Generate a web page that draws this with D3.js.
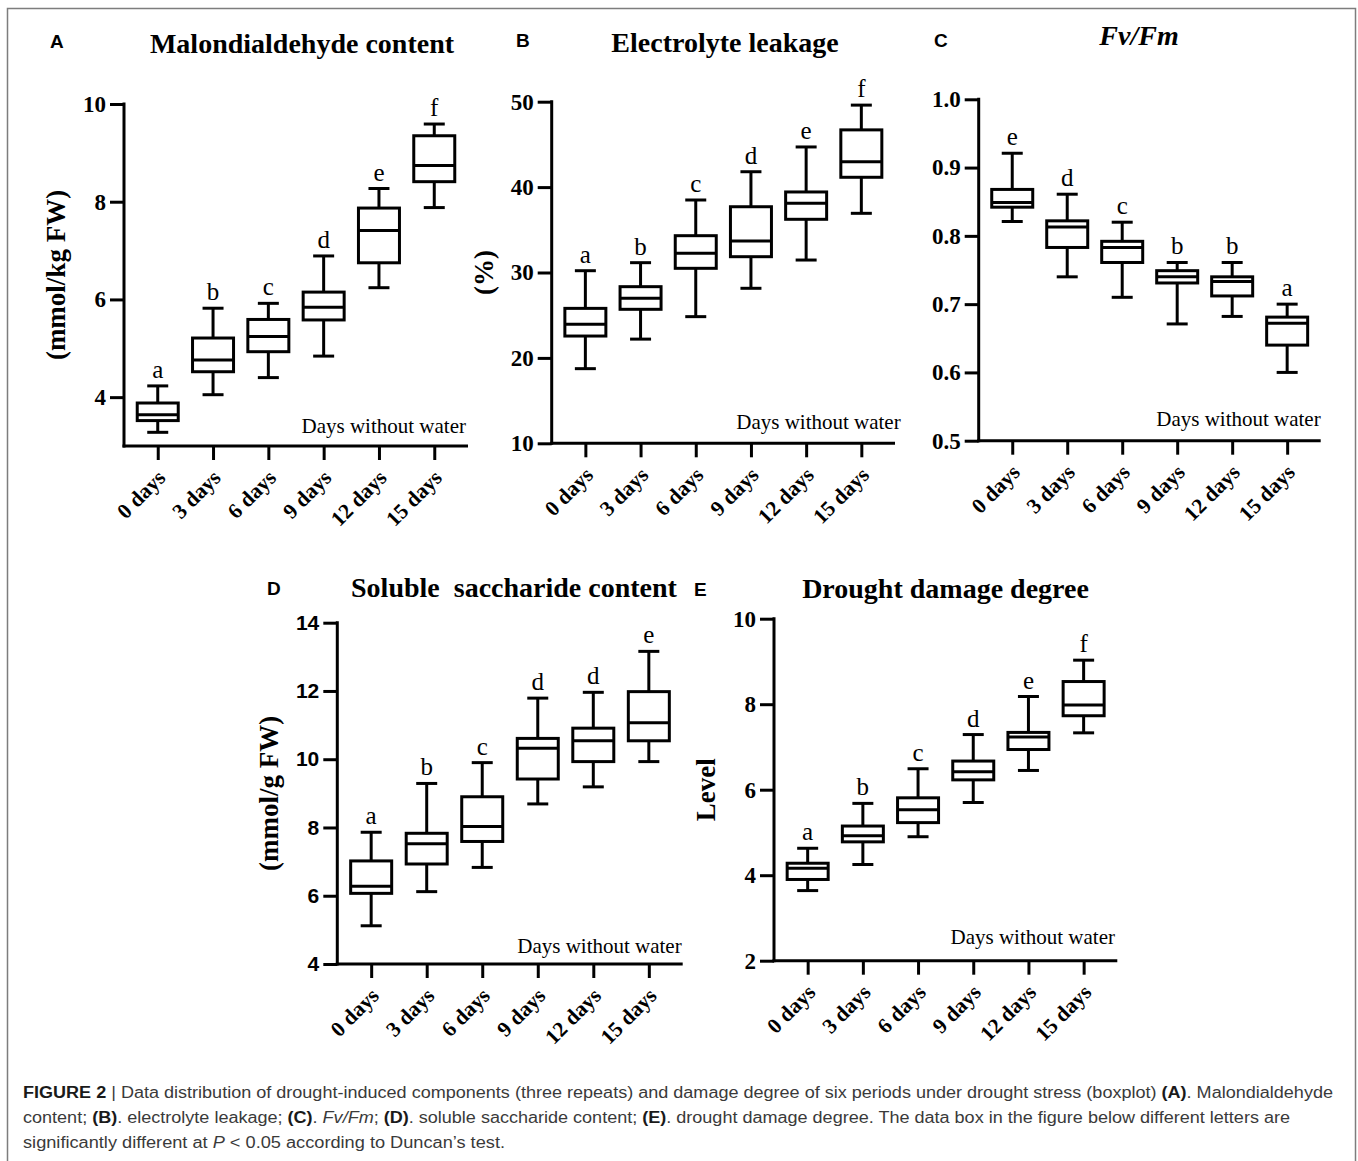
<!DOCTYPE html>
<html>
<head>
<meta charset="utf-8">
<script src="https://cdn.jsdelivr.net/npm/d3@7"></script>
<style>
  html, body { margin: 0; padding: 0; background: #fff; }
  svg { display: block; }
</style>
</head>
<body>
<svg id="fig" width="1358" height="1161"></svg>
<script>
// ---------------- DATA ----------------
const categories = ["0 days", "3 days", "6 days", "9 days", "12 days", "15 days"];

// five-number summaries: [min, Q1, median, Q3, max]
const mdaStats = [
  [3.28, 3.52, 3.64, 3.88, 4.23],
  [4.05, 4.52, 4.76, 5.21, 5.82],
  [4.40, 4.93, 5.24, 5.59, 5.92],
  [4.84, 5.58, 5.84, 6.15, 6.89],
  [6.24, 6.75, 7.41, 7.87, 8.27],
  [7.88, 8.41, 8.74, 9.35, 9.59]
];
const mdaLetters = ["a", "b", "c", "d", "e", "f"];
const mdaTicks = [4, 6, 8, 10];
const mdaDomain = [3, 10];

const elStats = [
  [18.74, 22.56, 23.93, 25.80, 30.21],
  [22.20, 25.69, 26.98, 28.34, 31.15],
  [24.83, 30.49, 32.25, 34.31, 38.49],
  [28.15, 31.85, 33.69, 37.70, 41.80],
  [31.46, 36.23, 38.10, 39.43, 44.70],
  [36.93, 41.15, 42.97, 46.70, 49.60]
];
const elLetters = ["a", "b", "c", "d", "e", "f"];
const elTicks = [10, 20, 30, 40, 50];
const elDomain = [10, 50];

const fvfmStats = [
  [0.821, 0.842, 0.849, 0.868, 0.921],
  [0.740, 0.783, 0.813, 0.822, 0.861],
  [0.710, 0.761, 0.783, 0.792, 0.820],
  [0.671, 0.731, 0.740, 0.749, 0.761],
  [0.682, 0.712, 0.733, 0.740, 0.761],
  [0.600, 0.640, 0.672, 0.681, 0.700]
];
const fvfmLetters = ["e", "d", "c", "b", "b", "a"];
const fvfmTicks = [0.5, 0.6, 0.7, 0.8, 0.9, 1.0];
const fvfmDomain = [0.5, 1.0];

const sscStats = [
  [5.12, 6.07, 6.28, 7.02, 7.86],
  [6.12, 6.93, 7.52, 7.83, 9.29],
  [6.83, 7.59, 8.03, 8.90, 9.90],
  [8.69, 9.42, 10.32, 10.61, 11.79],
  [9.19, 9.93, 10.54, 10.91, 11.96],
  [9.93, 10.54, 11.07, 11.98, 13.16]
];
const sscLetters = ["a", "b", "c", "d", "d", "e"];
const sscTicks = [4, 6, 8, 10, 12, 14];
const sscDomain = [4, 14];

const ddStats = [
  [3.64, 3.90, 4.16, 4.28, 4.63],
  [4.25, 4.78, 4.92, 5.15, 5.68],
  [4.90, 5.23, 5.53, 5.81, 6.49],
  [5.70, 6.23, 6.42, 6.67, 7.29],
  [6.45, 6.94, 7.23, 7.34, 8.18],
  [7.33, 7.73, 7.98, 8.53, 9.03]
];
const ddLetters = ["a", "b", "c", "d", "e", "f"];
const ddTicks = [2, 4, 6, 8, 10];
const ddDomain = [2, 10];

const xAxisNote = "Days without water";

// ---------------- LAYOUT ----------------
const SERIF = "'Liberation Serif', 'Times New Roman', serif";
const SANS = "'Liberation Sans', Arial, Helvetica, sans-serif";

const panels = [
  { tag: "A", title: "Malondialdehyde content", italic: false, ylabel: "(mmol/kg FW)",
    stats: mdaStats, letters: mdaLetters, ticks: mdaTicks, domain: mdaDomain, fmt: d3.format("d"),
    x0: 124, x1: 468, yTop: 104, yBot: 446, titleX: 302, titleY: 53, tagX: 50, tagY: 48,
    noteX: 466, noteY: 433, tickFont: SERIF, tickSize: 23 },
  { tag: "B", title: "Electrolyte leakage", italic: false, ylabel: "(%)",
    stats: elStats, letters: elLetters, ticks: elTicks, domain: elDomain, fmt: d3.format("d"),
    x0: 551.7, x1: 895, yTop: 101.7, yBot: 443.3, titleX: 725, titleY: 52, tagX: 516, tagY: 47,
    noteX: 900.7, noteY: 429, tickFont: SERIF, tickSize: 23 },
  { tag: "C", title: "Fv/Fm", italic: true, ylabel: null,
    stats: fvfmStats, letters: fvfmLetters, ticks: fvfmTicks, domain: fvfmDomain, fmt: d3.format(".1f"),
    x0: 978.7, x1: 1320.7, yTop: 99.3, yBot: 440.7, titleX: 1139, titleY: 45, tagX: 934, tagY: 47,
    noteX: 1320.7, noteY: 426, tickFont: SERIF, tickSize: 23 },
  { tag: "D", title: "Soluble\u00A0 saccharide content", italic: false, ylabel: "(mmol/g FW)",
    stats: sscStats, letters: sscLetters, ticks: sscTicks, domain: sscDomain, fmt: d3.format("d"),
    x0: 337.3, x1: 682.7, yTop: 622.7, yBot: 964, titleX: 514, titleY: 597, tagX: 267, tagY: 595,
    noteX: 681.7, noteY: 953, tickFont: SANS, tickSize: 21 },
  { tag: "E", title: "Drought damage degree", italic: false, ylabel: "Level",
    stats: ddStats, letters: ddLetters, ticks: ddTicks, domain: ddDomain, fmt: d3.format("d"),
    x0: 774, x1: 1117.3, yTop: 618.7, yBot: 960.7, titleX: 945.5, titleY: 598, tagX: 694, tagY: 596,
    noteX: 1115, noteY: 944, tickFont: SERIF, tickSize: 23 }
];

const svg = d3.select("#fig");
svg.append("rect").attr("width", 1358).attr("height", 1161).attr("fill", "#fff");

// outer frame
svg.append("rect")
  .attr("x", 7.5).attr("y", 8.5).attr("width", 1348).attr("height", 1160)
  .attr("fill", "none").attr("stroke", "#7d7d7d").attr("stroke-width", 1.5);

const SW = 3;
const boxW = 41;
const capW = 21;

panels.forEach(p => {
  const g = svg.append("g");
  const x = d3.scalePoint().domain(categories).range([p.x0, p.x1]).padding(0.61);
  const y = d3.scaleLinear().domain(p.domain).range([p.yBot, p.yTop]);

  // panel tag
  g.append("text").attr("x", p.tagX).attr("y", p.tagY)
    .attr("font-family", SANS).attr("font-weight", "bold").attr("font-size", 19)
    .attr("fill", "#000").text(p.tag);

  // title
  g.append("text").attr("x", p.titleX).attr("y", p.titleY)
    .attr("text-anchor", "middle")
    .attr("font-family", SERIF).attr("font-weight", "bold")
    .attr("font-style", p.italic ? "italic" : "normal")
    .attr("font-size", 28).attr("fill", "#000")
    .text(p.title);

  // y axis
  const yAxis = d3.axisLeft(y).tickValues(p.ticks).tickFormat(p.fmt).tickSize(14).tickPadding(4);
  const ya = g.append("g").attr("transform", `translate(${p.x0},0)`).call(yAxis);
  ya.select(".domain").remove();
  ya.selectAll(".tick line").attr("stroke", "#000").attr("stroke-width", SW);
  ya.selectAll(".tick text")
    .attr("font-family", p.tickFont).attr("font-weight", "bold")
    .attr("font-size", p.tickSize).attr("fill", "#000");
  g.append("line")
    .attr("x1", p.x0).attr("x2", p.x0)
    .attr("y1", p.yTop - SW / 2).attr("y2", p.yBot + SW / 2)
    .attr("stroke", "#000").attr("stroke-width", SW);

  // x axis
  const xAxis = d3.axisBottom(x).tickSize(14).tickFormat(() => "");
  const xa = g.append("g").attr("transform", `translate(0,${p.yBot})`).call(xAxis);
  xa.select(".domain").remove();
  xa.selectAll(".tick line").attr("stroke", "#000").attr("stroke-width", SW);
  g.append("line")
    .attr("x1", p.x0 - SW / 2).attr("x2", p.x1)
    .attr("y1", p.yBot).attr("y2", p.yBot)
    .attr("stroke", "#000").attr("stroke-width", SW);

  // rotated category labels
  g.selectAll(".xlab").data(categories).enter().append("text")
    .attr("class", "xlab")
    .attr("transform", d => `translate(${x(d) + 9},${p.yBot + 33}) rotate(-45)`)
    .attr("text-anchor", "end")
    .attr("font-family", SERIF).attr("font-weight", "bold").attr("font-size", 21.5)
    .attr("fill", "#000")
    .text(d => d);

  // note
  g.append("text").attr("x", p.noteX).attr("y", p.noteY)
    .attr("text-anchor", "end")
    .attr("font-family", SERIF).attr("font-size", 21).attr("fill", "#000")
    .text(xAxisNote);

  // y label
  if (p.ylabel) {
    g.append("text")
      .attr("transform", `translate(${p.x0 - 68},${(p.yTop + p.yBot) / 2}) rotate(-90)`)
      .attr("text-anchor", "middle").attr("dominant-baseline", "central")
      .attr("font-family", SERIF).attr("font-weight", "bold").attr("font-size", 27)
      .attr("fill", "#000")
      .text(p.ylabel);
  }

  // boxes
  const data = categories.map((c, i) => ({ c, s: p.stats[i], l: p.letters[i] }));
  const bg = g.selectAll(".box").data(data).enter().append("g").attr("class", "box");
  // whiskers
  bg.append("line")
    .attr("x1", d => x(d.c)).attr("x2", d => x(d.c))
    .attr("y1", d => y(d.s[0])).attr("y2", d => y(d.s[4]))
    .attr("stroke", "#000").attr("stroke-width", SW);
  bg.append("line")
    .attr("x1", d => x(d.c) - capW / 2).attr("x2", d => x(d.c) + capW / 2)
    .attr("y1", d => y(d.s[0])).attr("y2", d => y(d.s[0]))
    .attr("stroke", "#000").attr("stroke-width", SW);
  bg.append("line")
    .attr("x1", d => x(d.c) - capW / 2).attr("x2", d => x(d.c) + capW / 2)
    .attr("y1", d => y(d.s[4])).attr("y2", d => y(d.s[4]))
    .attr("stroke", "#000").attr("stroke-width", SW);
  // box
  bg.append("rect")
    .attr("x", d => x(d.c) - boxW / 2).attr("width", boxW)
    .attr("y", d => y(d.s[3])).attr("height", d => y(d.s[1]) - y(d.s[3]))
    .attr("fill", "#fff").attr("stroke", "#000").attr("stroke-width", SW);
  // median
  bg.append("line")
    .attr("x1", d => x(d.c) - boxW / 2).attr("x2", d => x(d.c) + boxW / 2)
    .attr("y1", d => y(d.s[2])).attr("y2", d => y(d.s[2]))
    .attr("stroke", "#000").attr("stroke-width", SW);
  // significance letters
  bg.append("text")
    .attr("x", d => x(d.c)).attr("y", d => y(d.s[4]) - 8)
    .attr("text-anchor", "middle")
    .attr("font-family", SERIF).attr("font-size", 25).attr("fill", "#000")
    .text(d => d.l);
});

// ---------------- CAPTION ----------------
const captionLines = [
  { y: 1098, len: 1310, parts: [
    ["FIGURE 2", "b"], [" | Data distribution of drought-induced components (three repeats) and damage degree of six periods under drought stress (boxplot) ", ""],
    ["(A)", "b"], [". Malondialdehyde", ""] ] },
  { y: 1123, len: 1267, parts: [
    ["content; ", ""], ["(B)", "b"], [". electrolyte leakage; ", ""], ["(C)", "b"], [". ", ""], ["Fv/Fm", "i"], ["; ", ""],
    ["(D)", "b"], [". soluble saccharide content; ", ""], ["(E)", "b"],
    [". drought damage degree. The data box in the figure below different letters are", ""] ] },
  { y: 1148, len: 482, parts: [
    ["significantly different at ", ""], ["P", "i"], [" < 0.05 according to Duncan\u2019s test.", ""] ] }
];
captionLines.forEach(line => {
  const t = svg.append("text").attr("x", 23).attr("y", line.y)
    .attr("font-family", SANS).attr("font-size", 16).attr("fill", "#3a3a3a")
    .attr("textLength", line.len).attr("lengthAdjust", "spacingAndGlyphs")
    .attr("xml:space", "preserve");
  line.parts.forEach(([txt, st]) => {
    t.append("tspan")
      .attr("font-weight", st === "b" ? "bold" : "normal")
      .attr("font-style", st === "i" ? "italic" : "normal")
      .attr("fill", st === "b" ? "#1a1a1a" : "#3a3a3a")
      .text(txt);
  });
});
</script>
</body>
</html>
